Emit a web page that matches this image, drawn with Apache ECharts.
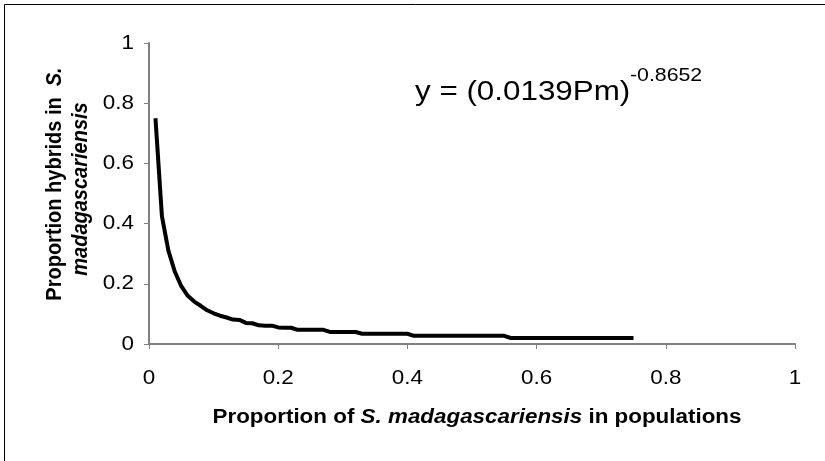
<!DOCTYPE html>
<html>
<head>
<meta charset="utf-8">
<script src="https://cdn.jsdelivr.net/npm/echarts@6/dist/echarts.min.js"></script>
<style>
html,body{margin:0;padding:0;background:#fff;}
#chart{width:825px;height:461px;}
</style>
</head>
<body>
<div id="chart"></div>
<script>
// Proportion of S. madagascariensis in populations (x) and proportion hybrids (y)
const xValues = [
  0.01,0.02,0.03,0.04,0.05,0.06,0.07,0.08,0.09,0.10,
  0.11,0.12,0.13,0.14,0.15,0.16,0.17,0.18,0.19,0.20,
  0.21,0.22,0.23,0.24,0.25,0.26,0.27,0.28,0.29,0.30,
  0.31,0.32,0.33,0.34,0.35,0.36,0.37,0.38,0.39,0.40,
  0.41,0.42,0.43,0.44,0.45,0.46,0.47,0.48,0.49,0.50,
  0.51,0.52,0.53,0.54,0.55,0.56,0.57,0.58,0.59,0.60,
  0.61,0.62,0.63,0.64,0.65,0.66,0.67,0.68,0.69,0.70,
  0.71,0.72,0.73,0.74,0.75
];
const yValues = [
  0.75,0.425,0.31,0.24,0.192,0.16,0.141,0.127,0.112,0.102,
  0.094,0.088,0.081,0.080,0.070,0.069,0.062,0.061,0.061,0.055,
  0.054,0.054,0.047,0.047,0.047,0.047,0.047,0.040,0.040,0.040,
  0.040,0.040,0.034,0.034,0.034,0.034,0.034,0.034,0.034,0.034,
  0.027,0.027,0.027,0.027,0.027,0.027,0.027,0.027,0.027,0.027,
  0.027,0.027,0.027,0.027,0.027,0.020,0.020,0.020,0.020,0.020,
  0.020,0.020,0.020,0.020,0.020,0.020,0.020,0.020,0.020,0.020,
  0.020,0.020,0.020,0.020,0.020
];
const xTicks = [0, 0.2, 0.4, 0.6, 0.8, 1];
const yTicks = [0, 0.2, 0.4, 0.6, 0.8, 1];
const xTickLabels = ['0', '0.2', '0.4', '0.6', '0.8', '1'];
const yTickLabels = ['0', '0.2', '0.4', '0.6', '0.8', '1'];
const xTitleA = 'Proportion of ';
const xTitleB = 'S. madagascariensis';
const xTitleC = ' in populations';
const yTitleLine1A = 'Proportion hybrids in  ';
const yTitleLine1B = 'S.';
const yTitleLine2 = 'madagascariensis';
const eqMain = 'y = (0.0139Pm)';
const eqExp = '-0.8652';

const FONT = '"Liberation Sans", Arial, Helvetica, sans-serif';
const SX = 1.12; // horizontal stretch of the original's text
const chart = echarts.init(document.getElementById('chart'), null, {renderer: 'canvas'});
const data = xValues.map((x, i) => [x, yValues[i]]);
const axisCommon = {
  type: 'value', min: 0, max: 1, interval: 0.2,
  splitLine: {show: false},
  axisLine: {show: true, lineStyle: {color: '#808080', width: 2}},
  axisTick: {show: true, length: 5, lineStyle: {color: '#808080', width: 1}},
  axisLabel: {show: false}
};
chart.setOption({
  backgroundColor: '#fff',
  animation: false,
  grid: {left: 149, right: 30, top: 43, bottom: 117, containLabel: false},
  xAxis: Object.assign({}, axisCommon),
  yAxis: Object.assign({}, axisCommon),
  series: [{
    type: 'line', data: data, showSymbol: false, symbol: 'none',
    lineStyle: {color: '#000', width: 4}, itemStyle: {color: '#000'}
  }]
});

const g = [
  {type: 'rect', shape: {x: 4.5, y: 4.5, width: 1000, height: 1000},
   style: {fill: 'none', stroke: '#000', lineWidth: 1}, silent: true},
  {type: 'text', x: 477, y: 417, scaleX: SX, style: {
    text: '{a|' + xTitleA + '}{b|' + xTitleB + '}{a|' + xTitleC + '}',
    textAlign: 'center', textVerticalAlign: 'middle',
    rich: {
      a: {font: 'bold 20px ' + FONT, fill: '#000'},
      b: {font: 'italic bold 20px ' + FONT, fill: '#000'}
    }}},
  {type: 'text', x: 55, y: 184, rotation: Math.PI / 2, scaleY: SX, style: {
    text: '{a|' + yTitleLine1A + '}{b|' + yTitleLine1B + '}',
    textAlign: 'center', textVerticalAlign: 'middle',
    rich: {
      a: {font: 'bold 20px ' + FONT, fill: '#000'},
      b: {font: 'italic bold 20px ' + FONT, fill: '#000'}
    }}},
  {type: 'text', x: 81, y: 189, rotation: Math.PI / 2, scaleY: SX, style: {
    text: yTitleLine2, font: 'italic bold 20px ' + FONT, fill: '#000',
    textAlign: 'center', textVerticalAlign: 'middle'}},
  {type: 'text', x: 415, y: 92, scaleX: SX, style: {
    text: eqMain, font: '28px ' + FONT, fill: '#000',
    textAlign: 'left', textVerticalAlign: 'middle'}},
  {type: 'text', x: 630, y: 76, scaleX: SX, style: {
    text: eqExp, font: '19px ' + FONT, fill: '#000',
    textAlign: 'left', textVerticalAlign: 'middle'}}
];
const axisY0 = chart.convertToPixel({yAxisIndex: 0}, 0);
const axisX0 = chart.convertToPixel({xAxisIndex: 0}, 0);
xTicks.forEach((v, i) => {
  g.push({type: 'text', x: chart.convertToPixel({xAxisIndex: 0}, v), y: axisY0 + 34, scaleX: SX,
    style: {text: xTickLabels[i], font: '20px ' + FONT, fill: '#000',
      textAlign: 'center', textVerticalAlign: 'middle'}});
});
yTicks.forEach((v, i) => {
  g.push({type: 'text', x: axisX0 - 15, y: chart.convertToPixel({yAxisIndex: 0}, v), scaleX: SX,
    style: {text: yTickLabels[i], font: '20px ' + FONT, fill: '#000',
      textAlign: 'right', textVerticalAlign: 'middle'}});
});
chart.setOption({graphic: g});
</script>
</body>
</html>
